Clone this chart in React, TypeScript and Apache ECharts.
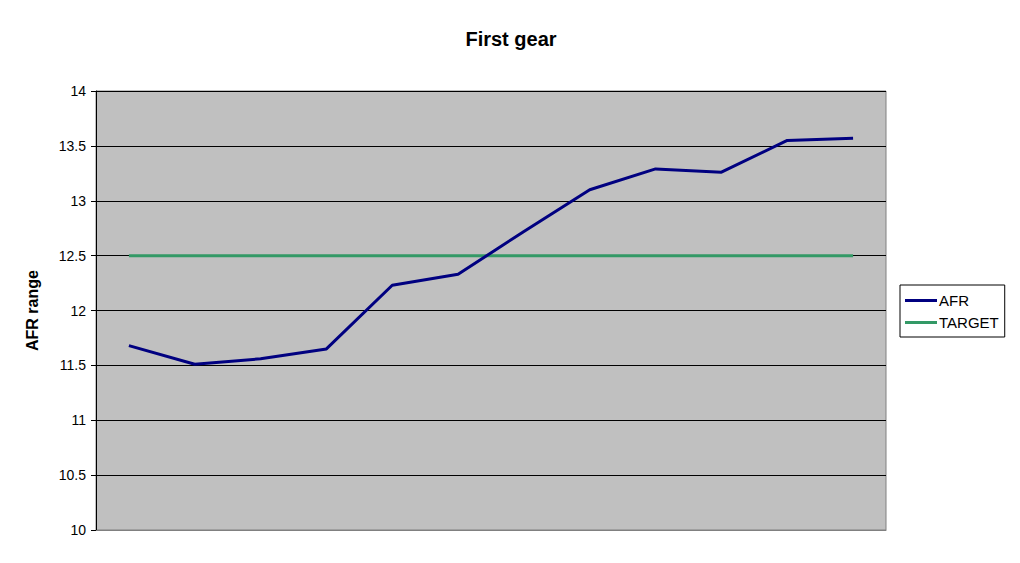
import React, { useEffect, useRef } from "react";
import * as echarts from "echarts";

const categories = ["1", "2", "3", "4", "5", "6", "7", "8", "9", "10", "11", "12"];
const afrValues = [11.68, 11.51, 11.56, 11.65, 12.23, 12.33, 12.72, 13.1, 13.29, 13.26, 13.55, 13.57];
const targetValues = [12.5, 12.5, 12.5, 12.5, 12.5, 12.5, 12.5, 12.5, 12.5, 12.5, 12.5, 12.5];

export default function App() {
  const ref = useRef<HTMLDivElement>(null);
  useEffect(() => {
    if (!ref.current) return;
    const chart = echarts.init(ref.current, undefined, { renderer: "svg" });
    const font = "'Liberation Sans', Arial, sans-serif";
    chart.setOption({
      animation: false,
      backgroundColor: "#ffffff",
      title: {
        text: "First gear",
        left: 506,
        textAlign: "center",
        top: 24,
        textStyle: { fontFamily: font, fontSize: 20, fontWeight: "bold", color: "#000" },
      },
      legend: {
        orient: "vertical",
        left: 900,
        top: 285,
        padding: [8, 6, 7, 5],
        itemGap: 7,
        itemWidth: 32,
        itemHeight: 3,
        icon: "rect",
        borderColor: "#000",
        borderWidth: 1,
        backgroundColor: "#fff",
        textStyle: { fontFamily: font, fontSize: 15, color: "#000", padding: [0, 0, 0, -3] },
        data: ["AFR", "TARGET"],
      },
      grid: {
        left: 96,
        right: 134,
        top: 91,
        bottom: 33,
        show: true,
        backgroundColor: "#c0c0c0",
        borderColor: "#808080",
        borderWidth: 1,
      },
      xAxis: {
        type: "category",
        data: categories,
        boundaryGap: true,
        axisLine: { show: true, lineStyle: { color: "#808080", width: 1 } },
        axisTick: { show: false },
        axisLabel: { show: false },
        splitLine: { show: false },
      },
      yAxis: {
        type: "value",
        min: 10,
        max: 14,
        interval: 0.5,
        name: "AFR range",
        nameLocation: "middle",
        nameGap: 56,
        nameRotate: 90,
        nameTextStyle: { fontFamily: font, fontSize: 16, fontWeight: "bold", color: "#000" },
        axisLine: { show: true, lineStyle: { color: "#000", width: 1 } },
        axisTick: { show: true, length: 5, lineStyle: { color: "#000" } },
        axisLabel: { fontFamily: font, fontSize: 14, color: "#000", margin: 10 },
        splitLine: { show: true, lineStyle: { color: "#000", width: 1 } },
      },
      series: [
        {
          name: "AFR",
          type: "line",
          data: afrValues,
          symbol: "none",
          lineStyle: { color: "#000080", width: 3 },
          itemStyle: { color: "#000080" },
          z: 3,
        },
        {
          name: "TARGET",
          type: "line",
          data: targetValues,
          symbol: "none",
          lineStyle: { color: "#339966", width: 3 },
          itemStyle: { color: "#339966" },
          z: 2,
        },
      ],
    });
    return () => chart.dispose();
  }, []);
  return <div ref={ref} style={{ width: 1020, height: 563, position: "absolute", left: 0, top: 0 }} />;
}
